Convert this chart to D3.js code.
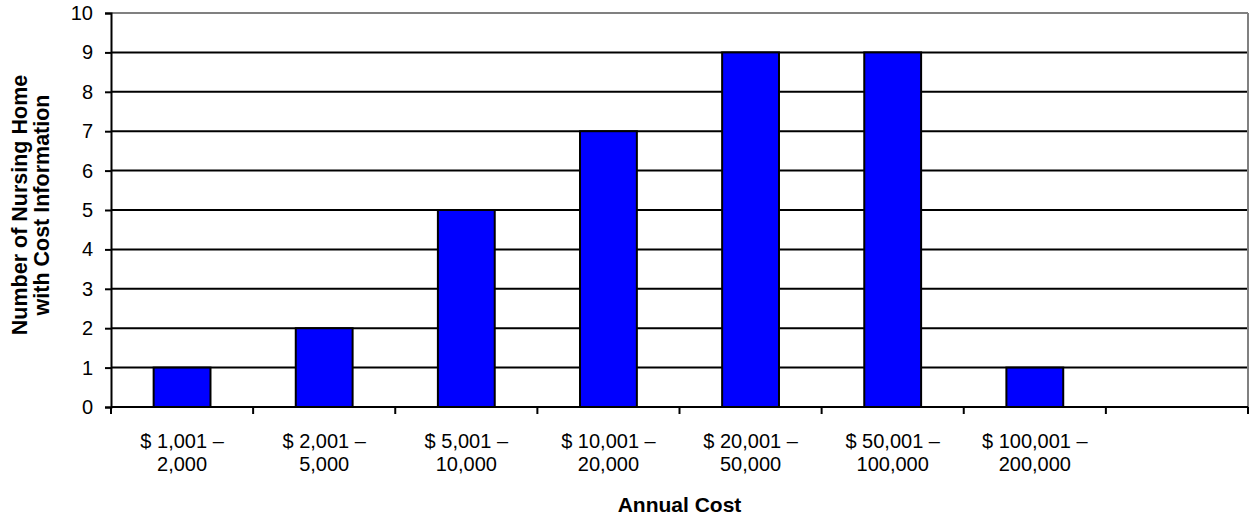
<!DOCTYPE html>
<html>
<head>
<meta charset="utf-8">
<script src="https://cdn.jsdelivr.net/npm/d3@7"></script>
<style>
  body { margin: 0; background: #fff; }
  text { font-family: "Liberation Sans", Arial, sans-serif; }
</style>
</head>
<body>
<svg width="1249" height="516"></svg>
<script>
// categories (the last slot is empty in the original)
let categories = ['c1', 'c2', 'c3', 'c4', 'c5', 'c6', 'c7', 'c8'];
let labelLine1 = ['$ 1,001 \u2013', '$ 2,001 \u2013', '$ 5,001 \u2013', '$ 10,001 \u2013', '$ 20,001 \u2013', '$ 50,001 \u2013', '$ 100,001 \u2013', ''];
let labelLine2 = ['2,000', '5,000', '10,000', '20,000', '50,000', '100,000', '200,000', ''];
let counts = [1, 2, 5, 7, 9, 9, 1, null];
let yTicks = [0, 1, 2, 3, 4, 5, 6, 7, 8, 9, 10];

let svg = d3.select('svg');
let plotLeft = 111, plotRight = 1248, plotTop = 13, plotBottom = 407;

let x = d3.scaleBand().domain(categories).range([plotLeft, plotRight]).paddingInner(0.6).paddingOuter(0.3);
let xEdge = d3.scaleBand().domain(categories).range([plotLeft, plotRight]);
let y = d3.scaleLinear().domain([0, 10]).range([plotBottom, plotTop]);

// gridlines
svg.append('g')
  .selectAll('line')
  .data(yTicks.filter(d => d > 0 && d < 10))
  .enter()
  .append('line')
  .attr('x1', plotLeft).attr('x2', plotRight)
  .attr('y1', d => y(d)).attr('y2', d => y(d))
  .attr('stroke', '#000').attr('stroke-width', 2);

// plot border top/right in gray
svg.append('line').attr('x1', plotLeft).attr('x2', plotRight).attr('y1', y(10)).attr('y2', y(10))
  .attr('stroke', '#808080').attr('stroke-width', 2);
svg.append('line').attr('x1', plotRight).attr('x2', plotRight).attr('y1', plotTop).attr('y2', plotBottom)
  .attr('stroke', '#808080').attr('stroke-width', 2);

// bars
svg.append('g')
  .selectAll('rect')
  .data(categories.map((c, i) => ({ c: c, v: counts[i] })).filter(d => d.v != null))
  .enter()
  .append('rect')
  .attr('x', d => x(d.c))
  .attr('width', x.bandwidth())
  .attr('y', d => y(d.v))
  .attr('height', d => y(0) - y(d.v))
  .attr('fill', '#0000ff')
  .attr('stroke', '#000')
  .attr('stroke-width', 2);

// y axis
let yAxis = d3.axisLeft(y).tickValues(yTicks).tickSize(6).tickPadding(12);
let gy = svg.append('g').attr('transform', `translate(${plotLeft},0)`).call(yAxis);
gy.select('.domain').attr('stroke', '#000').attr('stroke-width', 2);
gy.selectAll('.tick line').attr('stroke', '#000').attr('stroke-width', 2);
gy.selectAll('.tick text').attr('font-size', 20).attr('fill', '#000')
  .style('font-family', '"Liberation Sans", Arial, sans-serif');

// x axis line and ticks at category edges
svg.append('line').attr('x1', plotLeft).attr('x2', plotRight).attr('y1', plotBottom).attr('y2', plotBottom)
  .attr('stroke', '#000').attr('stroke-width', 2);
let edges = categories.map(c => xEdge(c)).concat([plotRight]);
svg.append('g')
  .selectAll('line')
  .data(edges)
  .enter()
  .append('line')
  .attr('x1', d => d).attr('x2', d => d)
  .attr('y1', plotBottom).attr('y2', plotBottom + 7)
  .attr('stroke', '#000').attr('stroke-width', 2);

// x labels
let xl = svg.append('g')
  .selectAll('text')
  .data(categories)
  .enter()
  .append('text')
  .attr('text-anchor', 'middle')
  .attr('font-size', 20)
  .attr('fill', '#000');
xl.append('tspan')
  .attr('x', d => xEdge(d) + xEdge.bandwidth() / 2)
  .attr('y', 448)
  .text((d, i) => labelLine1[i]);
xl.append('tspan')
  .attr('x', d => xEdge(d) + xEdge.bandwidth() / 2)
  .attr('y', 471)
  .text((d, i) => labelLine2[i]);

// axis titles
svg.append('text')
  .attr('x', (plotLeft + plotRight) / 2)
  .attr('y', 512)
  .attr('text-anchor', 'middle')
  .attr('font-size', 21)
  .attr('font-weight', 'bold')
  .text('Annual Cost');

let yt = svg.append('text')
  .attr('transform', 'translate(0,205) rotate(-90)')
  .attr('text-anchor', 'middle')
  .attr('font-size', 21.5)
  .attr('font-weight', 'bold');
yt.append('tspan').attr('x', 0).attr('y', 27).text('Number of Nursing Home');
yt.append('tspan').attr('x', 0).attr('y', 49).text('with Cost Information');
</script>
</body>
</html>
